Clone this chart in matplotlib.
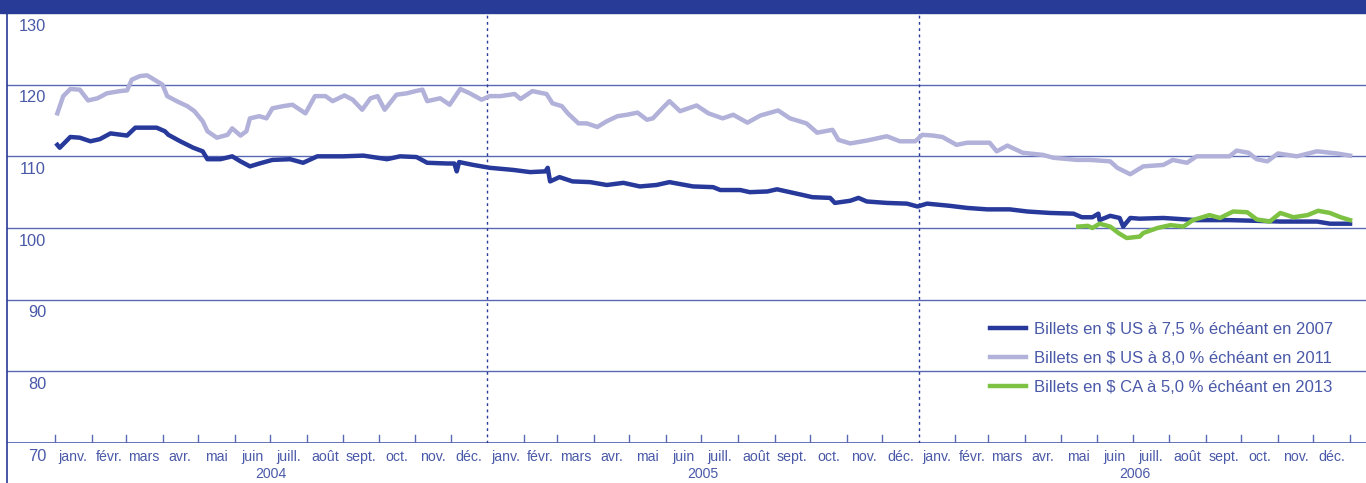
import matplotlib.pyplot as plt
import matplotlib.transforms as mtransforms
import pandas as pd

# days since 2004-01-01
us75_days = [2, 4, 13, 21, 30, 38, 47, 61, 68, 78, 86, 93, 96, 106, 117, 125, 129, 140, 150, 157,
             165, 173, 184, 199, 210, 222, 244, 261, 281, 292, 306, 315, 332, 338, 340, 342, 354, 368,
             388, 402, 415, 417, 419, 427, 438, 453, 467, 481, 495, 509, 520, 540, 557, 563, 580, 588,
             603, 611, 622, 633, 641, 656, 660, 673, 680, 687, 704, 721, 730, 738, 757, 772, 789, 808,
             823, 842, 862, 869, 878, 883, 884, 893, 901, 904, 910, 918, 938, 966, 994, 1017, 1037,
             1056, 1068, 1079, 1096]
us75_vals = [111.6, 111.2, 112.7, 112.6, 112.1, 112.4, 113.2, 112.9, 114.0, 114.0, 114.0, 113.5, 113.0,
             112.1, 111.2, 110.7, 109.6, 109.6, 110.0, 109.3, 108.6, 109.0, 109.5, 109.6, 109.1, 110.0,
             110.0, 110.1, 109.6, 110.0, 109.9, 109.1, 109.0, 109.0, 107.9, 109.2, 108.8, 108.4, 108.1,
             107.8, 107.9, 108.4, 106.5, 107.1, 106.5, 106.4, 106.0, 106.3, 105.8, 106.0, 106.4, 105.8,
             105.7, 105.3, 105.3, 105.0, 105.1, 105.4, 105.0, 104.6, 104.3, 104.2, 103.5, 103.8, 104.2,
             103.7, 103.5, 103.4, 103.0, 103.4, 103.1, 102.8, 102.6, 102.6, 102.3, 102.1, 102.0, 101.5,
             101.5, 102.0, 101.1, 101.7, 101.4, 100.2, 101.4, 101.3, 101.4, 101.1, 101.1, 101.0, 100.9,
             100.9, 100.9, 100.6, 100.6]

us80_days = [2, 7, 13, 21, 28, 36, 44, 55, 61, 65, 72, 78, 86, 91, 95, 103, 112, 118, 125, 129, 137,
             146, 150, 157, 162, 165, 173, 179, 184, 193, 201, 212, 220, 229, 235, 245, 252, 260, 267,
             273, 279, 289, 298, 305, 311, 315, 326, 334, 343, 351, 361, 368, 377, 389, 394, 404, 416,
             421, 429, 434, 443, 450, 459, 467, 476, 484, 493, 501, 506, 514, 520, 529, 543, 553, 565,
             574, 586, 597, 612, 622, 636, 645, 658, 663, 673, 687, 704, 715, 728, 734, 743, 751, 763,
             772, 791, 797, 806, 819, 836, 845, 865, 876, 893, 899, 910, 921, 938, 946, 958, 966, 980,
             994, 1000, 1010, 1017, 1026, 1035, 1051, 1068, 1085, 1096]
us80_vals = [116.0, 118.4, 119.4, 119.3, 117.8, 118.1, 118.8, 119.1, 119.2, 120.7, 121.2, 121.3, 120.5,
             120.0, 118.4, 117.7, 117.0, 116.3, 114.9, 113.5, 112.6, 113.0, 113.9, 112.9, 113.5, 115.3,
             115.6, 115.3, 116.7, 117.0, 117.2, 116.0, 118.4, 118.4, 117.7, 118.5, 117.9, 116.5, 118.1,
             118.4, 116.5, 118.6, 118.8, 119.1, 119.3, 117.7, 118.1, 117.2, 119.4, 118.8, 117.9, 118.4,
             118.4, 118.7, 118.0, 119.1, 118.7, 117.4, 117.0, 116.0, 114.6, 114.6, 114.1, 114.9, 115.6,
             115.8, 116.1, 115.1, 115.3, 116.7, 117.7, 116.3, 117.1, 116.0, 115.3, 115.8, 114.7, 115.7,
             116.4, 115.3, 114.6, 113.3, 113.7, 112.3, 111.8, 112.2, 112.8, 112.1, 112.1, 113.0, 112.9,
             112.7, 111.6, 111.9, 111.9, 110.7, 111.5, 110.5, 110.2, 109.8, 109.5, 109.5, 109.3, 108.4,
             107.5, 108.6, 108.8, 109.5, 109.1, 110.0, 110.0, 110.0, 110.8, 110.5, 109.6, 109.3, 110.4,
             110.0, 110.7, 110.4, 110.1]

ca50_days = [866, 874, 878, 884, 893, 900, 907, 918, 921, 933, 944, 955, 963, 977, 986, 997, 1009,
             1017, 1028, 1037, 1048, 1060, 1069, 1079, 1088, 1096]
ca50_vals = [100.2, 100.3, 100.0, 100.6, 100.2, 99.3, 98.6, 98.8, 99.3, 100.0, 100.4, 100.2, 101.1,
             101.8, 101.4, 102.3, 102.2, 101.2, 100.9, 102.1, 101.5, 101.8, 102.4, 102.1, 101.5, 101.1]

labels = ["Billets en $ US à 7,5 % échéant en 2007",
          "Billets en $ US à 8,0 % échéant en 2011",
          "Billets en $ CA à 5,0 % échéant en 2013"]
mois = ["janv.", "févr.", "mars", "avr.", "mai", "juin", "juill.", "août", "sept.", "oct.", "nov.", "déc."]
annees = ["2004", "2005", "2006"]
y_vals = [130, 120, 110, 100, 90, 80, 70]

navy = "#283b96"
grid_c = "#5868b4"
txt_c = "#4a59a8"

plt.rcParams["font.family"] = ["Liberation Sans", "DejaVu Sans"]

fig = plt.figure(figsize=(13.66, 4.83), dpi=100)
ax = fig.add_axes([7 / 1366, 40 / 483, 1359 / 1366, 430 / 483])

# top banner and left rule
fig.patches.append(plt.Rectangle((0, 470 / 483), 1, 13 / 483, transform=fig.transFigure,
                                 color=navy, zorder=5))
fig.add_artist(plt.Line2D([7 / 1366, 7 / 1366], [0, 1], transform=fig.transFigure,
                          color=navy, lw=1.2))

base = pd.Timestamp("2004-01-01")
ax.set_xlim(-40.6, 1109.5)
ax.set_ylim(70, 130)
for s in ax.spines.values():
    s.set_visible(False)

for v in [80, 90, 100, 110, 120]:
    ax.axhline(v, color=grid_c, lw=1.0, zorder=1)
ax.axhline(70, color=grid_c, lw=1.3, zorder=1)

starts = pd.date_range("2004-01-01", "2007-01-01", freq="MS")
pos = [(d - base).days for d in starts]
for d, p in zip(starts, pos):
    if d.month == 1 and d.year in (2005, 2006):
        ax.axvline(p, color=navy, lw=1.0, ls=(0, (2, 2.5)), zorder=1)
    else:
        ax.plot([p, p], [70, 71.1], color=grid_c, lw=1.0, zorder=1)

ax.set_xticks([])
ax.set_yticks([])

trans_y = mtransforms.blended_transform_factory(ax.transAxes, ax.transData)
for v in y_vals:
    ax.text(0.0287, v - 1.85, str(v), transform=trans_y, ha="right", va="center",
            fontsize=11.8, color=txt_c, clip_on=False)

trans_x = mtransforms.blended_transform_factory(ax.transData, ax.transAxes)
for i in range(len(pos) - 1):
    mid = (pos[i] + pos[i + 1]) / 2
    ax.text(mid, -0.033, mois[i % 12], transform=trans_x, ha="center", va="center",
            fontsize=10.2, color=txt_c, clip_on=False)
for j, a in enumerate(annees):
    mid = (pos[12 * j] + pos[12 * j + 12]) / 2
    ax.text(mid, -0.073, a, transform=trans_x, ha="center", va="center",
            fontsize=10.2, color=txt_c, clip_on=False)

ax.plot(us75_days, us75_vals, color="#27399a", lw=3.2, solid_joinstyle="round", zorder=4, label=labels[0])
ax.plot(us80_days, us80_vals, color="#b1b1da", lw=3.2, solid_joinstyle="round", zorder=3, label=labels[1])
ax.plot(ca50_days, ca50_vals, color="#7dc243", lw=3.2, solid_joinstyle="round", zorder=5, label=labels[2])

leg = ax.legend(loc="upper left", bbox_to_anchor=(990 / 1366, (483 - 322) / 483),
                bbox_transform=fig.transFigure, frameon=False, fontsize=12,
                handlelength=2.15, handletextpad=0.5, labelspacing=0.83, borderpad=0,
                borderaxespad=0)
for t in leg.get_texts():
    t.set_color(txt_c)

fig.savefig("out.png", dpi=100)
